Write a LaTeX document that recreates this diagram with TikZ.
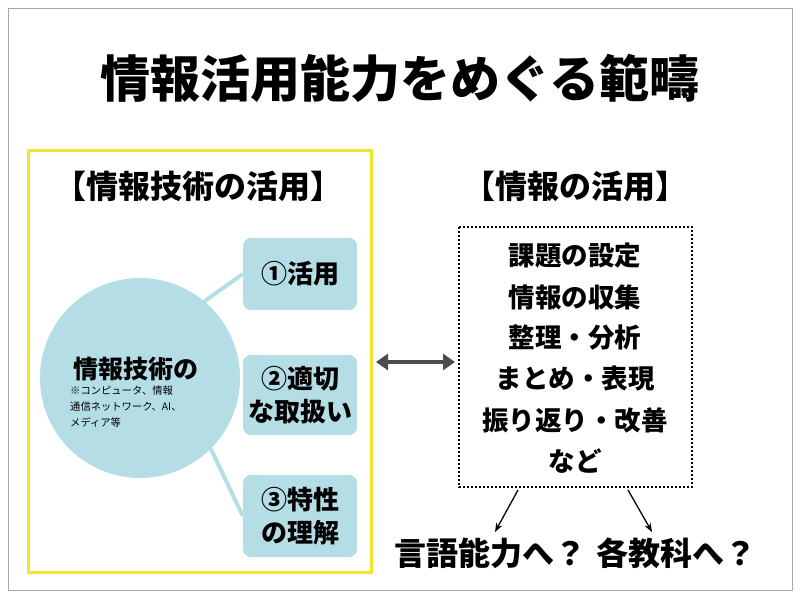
\documentclass[tikz,border=0pt]{standalone}
\usepackage{fontspec}
\setmainfont{Noto Sans CJK JP}
\usetikzlibrary{positioning,arrows.meta}
\definecolor{skyblue}{HTML}{B4DDE5}
\definecolor{markyellow}{HTML}{F2E62E}

\begin{document}
\begin{tikzpicture}[x=1pt,y=-1pt,
  hfont/.style={font=\fontsize{32}{36}\selectfont\bfseries},
  item/.style={rectangle,rounded corners=8pt,fill=skyblue,minimum width=114pt,align=center,font=\fontsize{26}{33}\selectfont\bfseries},
  stage/.style={font=\fontsize{26.5}{30}\selectfont\bfseries},
  spoke/.style={draw=skyblue,line width=4pt}]

\useasboundingbox (0,0) rectangle (800,597);
\draw[gray!70] (8,8) rectangle (792,590);

\node[font=\fontsize{50}{56}\selectfont\bfseries] (title) at (400,78) {情報活用能力をめぐる範疇};

% left: technology
\draw[markyellow,line width=3pt] (28,150) rectangle (371,572);
\node[hfont] (techhead) at (198,186) {【情報技術の活用】};
\node[circle,fill=skyblue,minimum size=200pt] (tech) at (140,378) {};
\node[font=\fontsize{25}{30}\selectfont\bfseries,anchor=south] (techname) at (136,384) {情報技術の};
\node[align=left,anchor=north west,font=\fontsize{10.3}{16}\selectfont,inner sep=0pt] (technote) at (70,386) {※コンピュータ、情報\\通信ネットワーク、AI、\\メディア等};

\node[item,minimum height=72pt] (use) at (300,274) {①活用};
\node[item,minimum height=80pt] (care) at (300,395) {②適切\\な取扱い};
\node[item,minimum height=82pt] (know) at (300,516) {③特性\\の理解};
\draw[spoke] (tech.50) -- (use.west);
\draw[spoke] (tech.-45) -- (know.west);

\draw[{Triangle[length=12pt,width=16pt]}-{Triangle[length=12pt,width=16pt]},line width=4.5pt,gray!60!black] (376,362) -- (455,362);

% right: information
\node[hfont] (infohead) at (575,186) {【情報の活用】};
\draw[dotted,line width=2pt] (459,227) rectangle (692,487);
\node[stage] (s1) at (575,256) {課題の設定};
\node[stage] (s2) at (575,297) {情報の収集};
\node[stage] (s3) at (575,338) {整理・分析};
\node[stage] (s4) at (575,379) {まとめ・表現};
\node[stage] (s5) at (575,420) {振り返り・改善};
\node[stage] (s6) at (575,461) {など};

\coordinate (outl) at (518,490);
\coordinate (outr) at (628,490);
\node[hfont] (lang) at (490,553) {言語能力へ？};
\node[hfont] (subj) at (676,553) {各教科へ？};
\draw[-{Stealth[length=9pt]},line width=1.3pt] (outl) -- (495,532);
\draw[-{Stealth[length=9pt]},line width=1.3pt] (outr) -- (652,532);

\end{tikzpicture}
\end{document}
